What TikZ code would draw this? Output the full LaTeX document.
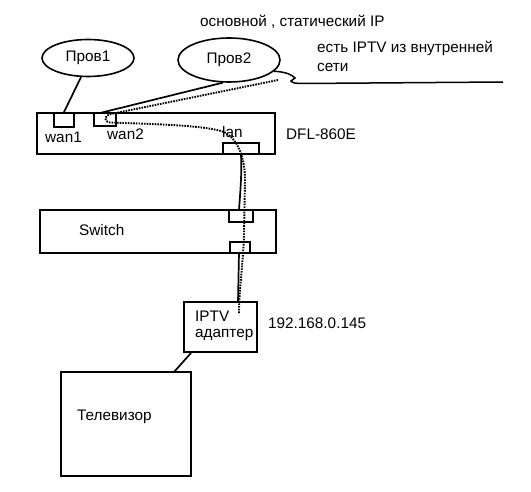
\documentclass[tikz,border=0pt]{standalone}
\usepackage{fontspec}
\setmainfont{Liberation Sans}
\usetikzlibrary{shapes.geometric,calc}
\begin{document}
\begin{tikzpicture}[x=1pt,y=-1pt,
  every node/.style={font=\fontsize{15.3}{17}\selectfont},
  box/.style={draw,line width=1.8pt,rectangle,inner sep=0pt,minimum width=#1},
  prov/.style={draw,line width=1.6pt,ellipse,inner sep=0pt},
  wire/.style={line width=1.7pt},
  iptvpath/.style={line width=1.9pt,dash pattern=on 1.6pt off 1.1pt},
  lbl/.style={inner sep=0pt,anchor=west}]
\useasboundingbox (0,0) rectangle (531,492);
% providers
\node[prov,minimum width=92pt,minimum height=37pt] (prov1) at (88,58) {Пров1};
\node[prov,minimum width=102pt,minimum height=44pt] (prov2) at (229,60) {Пров2};
% router
\node[box=238pt,minimum height=41pt] (dfl) at (156,133.5) {};
\node[box=20pt,minimum height=14pt] (wan1) at (64,120) {};
\node[box=22pt,minimum height=13pt] (wan2) at (105,119.5) {};
\node[box=36pt,minimum height=11pt] (lan) at (241,148.5) {};
\node[lbl] (wan1t) at (45,137) {wan1};
\node[lbl] (wan2t) at (107,134.5) {wan2};
\node[lbl] (lant) at (222,132.5) {lan};
\node[lbl] (dflt) at (286,134) {DFL-860E};
% switch
\node[box=236pt,minimum height=43pt] (switch) at (158,231.5) {};
\node[box=24pt,minimum height=12pt] (swtop) at (241,216) {};
\node[box=20pt,minimum height=11pt] (swbot) at (240,247.5) {};
\node[lbl] (switcht) at (79,230) {Switch};
% iptv adapter
\node[box=73pt,minimum height=50pt] (iptv) at (220.5,327) {};
\node[lbl] (iptvt1) at (195,316) {IPTV};
\node[lbl] (iptvt2) at (195,335) {адаптер};
\node[lbl] (ip) at (268,323) {192.168.0.145};
% tv
\node[box=130pt,minimum height=104pt] (tv) at (126,424) {};
\node[lbl] (tvt) at (77,417) {Телевизор};
% top labels
\node[lbl] (maint) at (200,22) {основной , статический IP};
\node[lbl] (note1) at (317,48) {есть IPTV из внутренней};
\node[lbl] (note2) at (317,67) {сети};
% connector end points
\coordinate (wan2in) at (100,113);
\coordinate (swin) at (239,210);
\coordinate (swout) at (239,253);
\coordinate (iptvin) at (238,302);
\coordinate (iptvout) at (191,353);
\coordinate (tvin) at (174,372);
% connectors
\draw[wire] (prov1.250) -- (wan1.north);
\draw[wire] (prov2.255) -- (wan2in);
\draw[wire] (lan.south) .. controls (242,175) and (240,195) .. (swin);
\draw[wire] (swout) -- (iptvin);
\draw[wire] (iptvout) -- (tvin);
% squiggle to outside network
\coordinate (ext) at (503,82);
\draw[line width=1.5pt] (prov2.-14) .. controls (287,72) and (292,75) .. (295,78)
   -- (291,81) .. controls (292,83) and (296,83.5) .. (303,83.5) -- (ext);
% IPTV stream
\coordinate (iptvsrc) at (278,80);
\coordinate (iptvend) at (239,314);
\draw[iptvpath] (iptvsrc) -- (111,114) .. controls (104,116) and (103,121) .. (110,122.5)
  .. controls (150,124) and (205,125) .. (224,132)
  .. controls (238,139) and (245,158) .. (245,180) -- (244,235)
  .. controls (243,265) and (239,290) .. (iptvend);
\end{tikzpicture}
\end{document}
